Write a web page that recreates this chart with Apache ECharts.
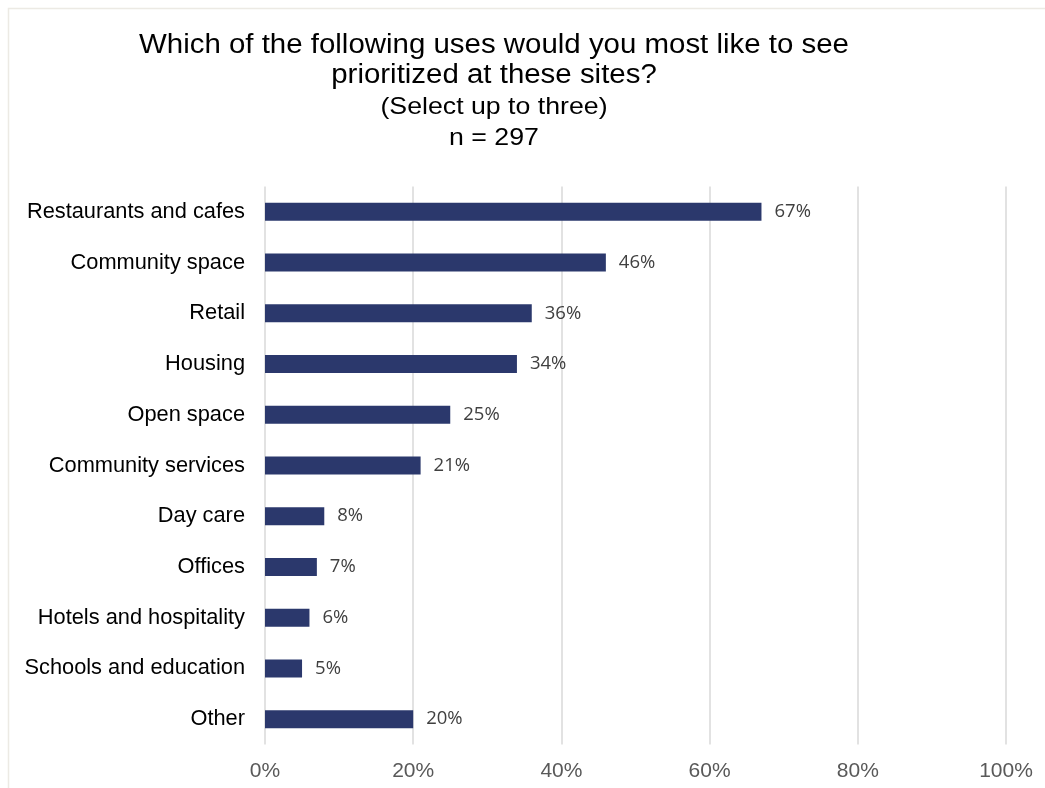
<!DOCTYPE html>
<html>
<head>
<meta charset="utf-8">
<script src="https://cdn.jsdelivr.net/npm/echarts@6/dist/echarts.min.js"></script>
<style>
  html, body { margin: 0; padding: 0; background: #ffffff; }
  #chart { width: 1045px; height: 788px; }
</style>
</head>
<body>
<div id="chart"></div>
<script>
// Survey responses: share of respondents choosing each use (percent)
const categories = [
  'Restaurants and cafes',
  'Community space',
  'Retail',
  'Housing',
  'Open space',
  'Community services',
  'Day care',
  'Offices',
  'Hotels and hospitality',
  'Schools and education',
  'Other'
];
const shares = [67, 46, 36, 34, 25, 21, 8, 7, 6, 5, 20];
const titleLines = [
  'Which of the following uses would you most like to see',
  'prioritized at these sites?',
  '(Select up to three)',
  'n = 297'
];

const FONT = 'Liberation Sans, Arial, sans-serif';
const CENTER_X = 494;

// Heading block: four centred lines, the question in a larger size
const headingLayout = [
  { y: 45.3, size: 27 },
  { y: 76.0, size: 27 },
  { y: 107.5, size: 24.5 },
  { y: 138.5, size: 24.5 }
];
const headingGraphics = titleLines.map((line, i) => ({
  type: 'text',
  x: CENTER_X,
  y: headingLayout[i].y,
  scaleX: 1.09,
  silent: true,
  style: {
    text: line,
    font: headingLayout[i].size + 'px ' + FONT,
    fill: '#000000',
    align: 'center',
    verticalAlign: 'middle'
  }
}));

const chart = echarts.init(document.getElementById('chart'), null, { renderer: 'canvas' });

chart.setOption({
  animation: false,
  backgroundColor: '#ffffff',
  graphic: [
    {
      type: 'rect',
      shape: { x: 8.5, y: 8.5, width: 1060, height: 800 },
      style: { fill: 'none', stroke: '#ECEAE4', lineWidth: 1.5 },
      silent: true
    }
  ].concat(headingGraphics),
  grid: {
    left: 265,
    right: 39,
    top: 186.5,
    bottom: 43.5,
    containLabel: false
  },
  xAxis: {
    type: 'value',
    min: 0,
    max: 100,
    interval: 20,
    axisLine: { show: false },
    axisTick: { show: false },
    splitLine: { show: true, lineStyle: { color: '#D9D9D9', width: 1.5 } },
    axisLabel: {
      formatter: '{value}%',
      fontFamily: FONT,
      fontSize: 21,
      color: '#595959',
      margin: 16
    }
  },
  yAxis: {
    type: 'category',
    data: categories,
    inverse: true,
    axisLine: { show: false },
    axisTick: { show: false },
    axisLabel: {
      fontFamily: FONT,
      fontSize: 21.8,
      color: '#000000',
      margin: 20
    }
  },
  series: [
    {
      type: 'bar',
      data: shares,
      barWidth: 18,
      itemStyle: { color: '#2B386C' },
      label: {
        show: true,
        position: 'right',
        distance: 13,
        formatter: '{c}%',
        fontFamily: 'Open Sans, sans-serif',
        fontSize: 18.5,
        color: '#404040'
      }
    }
  ]
});
</script>
</body>
</html>
